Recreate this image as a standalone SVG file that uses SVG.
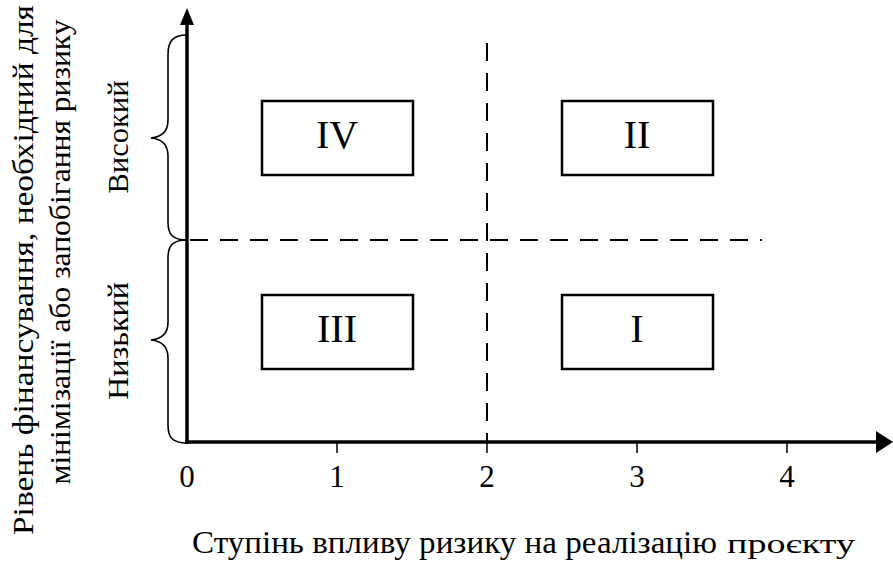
<svg xmlns="http://www.w3.org/2000/svg" width="893" height="561" viewBox="0 0 893 561">
<style>
text{font-family:"Liberation Serif",Tinos,"Nimbus Roman","Nimbus Roman No9 L",FreeSerif,"TeX Gyre Termes","Times New Roman",Times,"DejaVu Serif","Noto Serif",serif;fill:#000}
.box{fill:#fff;stroke:#000;stroke-width:2.5}
.lbl{font-size:40px;text-anchor:middle}
.num{font-size:31px;text-anchor:middle}
.ax{stroke:#000;stroke-width:3.5;fill:none}
.dash{stroke:#000;stroke-width:2;stroke-dasharray:18 12;fill:none}
.brace{stroke:#000;stroke-width:1.6;fill:none}
.tick{stroke:#000;stroke-width:1.5}
.side{font-size:30px;text-anchor:middle}
</style>
<rect width="893" height="561" fill="#fff"/>
<g id="connectors">
<line class="dash" x1="190" y1="240" x2="762" y2="240"/>
<line class="dash" x1="487" y1="43" x2="487" y2="442"/>
<path class="brace" d="M187,35 C172,35 168,42 168,55 L168,120 C168,132 162,137 151,138 C162,139 168,144 168,156 L168,222 C168,234 172,240 187,240"/>
<path class="brace" d="M187,240 C172,240 168,246 168,258 L168,322 C168,334 162,339 151,340 C162,341 168,346 168,358 L168,425 C168,437 172,443 187,443"/>
<line class="ax" x1="187" y1="444" x2="187" y2="22"/>
<polygon points="187,8 180,25 194,25" fill="#000"/>
<line class="ax" x1="185" y1="442" x2="879" y2="442"/>
<polygon points="893,442 876,431 876,453" fill="#000"/>
<line class="tick" x1="337" y1="442" x2="337" y2="453"/>
<line class="tick" x1="487" y1="442" x2="487" y2="453"/>
<line class="tick" x1="637" y1="442" x2="637" y2="453"/>
<line class="tick" x1="787" y1="442" x2="787" y2="453"/>
</g>
<g id="node-IV"><rect class="box" x="262" y="101" width="151" height="74"/><text class="lbl" x="337" y="148">IV</text></g>
<g id="node-II"><rect class="box" x="562" y="101" width="151" height="74"/><text class="lbl" x="637" y="148">II</text></g>
<g id="node-III"><rect class="box" x="262" y="295" width="151" height="74"/><text class="lbl" x="337" y="342">III</text></g>
<g id="node-I"><rect class="box" x="562" y="295" width="151" height="74"/><text class="lbl" x="637" y="342">I</text></g>
<g id="axis-numbers">
<text class="num" x="187" y="487">0</text>
<text class="num" x="337" y="487">1</text>
<text class="num" x="487" y="487">2</text>
<text class="num" x="637" y="487">3</text>
<text class="num" x="787" y="487">4</text>
</g>
<g id="level-labels">
<text class="side" transform="translate(128,137) rotate(-90)" textLength="113" lengthAdjust="spacingAndGlyphs">Високий</text>
<text class="side" transform="translate(128,341) rotate(-90)" textLength="118" lengthAdjust="spacingAndGlyphs">Низький</text>
</g>
<g id="y-title">
<text class="side" transform="translate(33,270) rotate(-90)" textLength="530" lengthAdjust="spacingAndGlyphs">Рівень фінансування, необхідний для</text>
<text class="side" transform="translate(70,252) rotate(-90)" textLength="465" lengthAdjust="spacingAndGlyphs">мінімізації або запобігання ризику</text>
</g>
<g id="x-title">
<text x="192" y="553" style="font-size:31px" textLength="525" lengthAdjust="spacingAndGlyphs">Ступінь впливу ризику на реалізацію</text>
<text x="727" y="553" style="font-size:27px" textLength="128" lengthAdjust="spacingAndGlyphs">проєкту</text>
</g>
</svg>
